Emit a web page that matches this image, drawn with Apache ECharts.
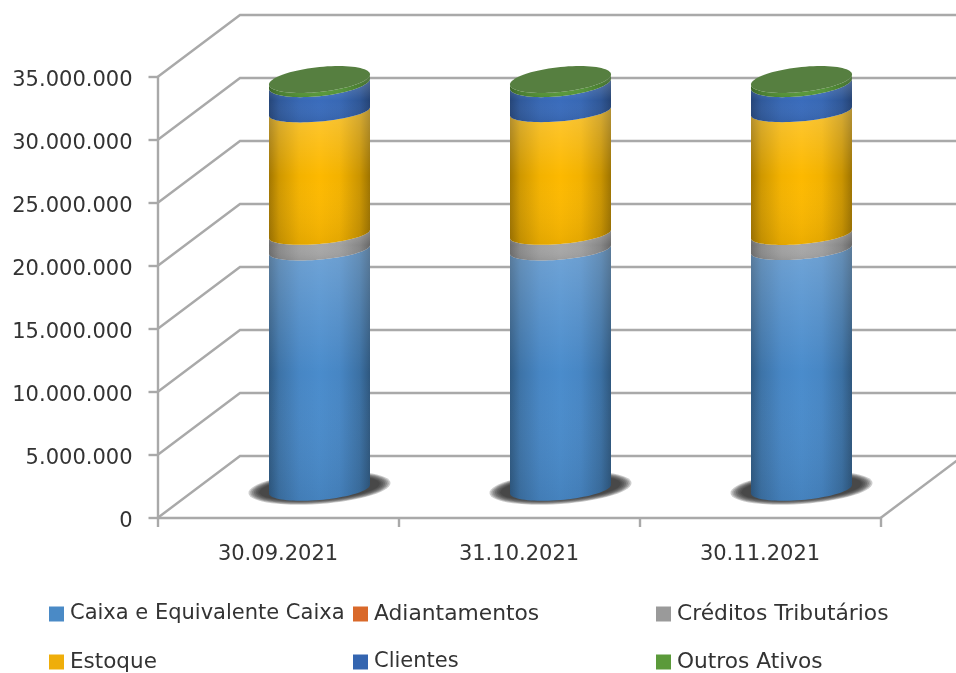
<!DOCTYPE html>
<html><head><meta charset="utf-8">
<style>html,body{margin:0;padding:0;background:#fff}#c{width:956px;height:673px;filter:blur(0.55px)}</style>
<script src="https://cdn.jsdelivr.net/npm/echarts@6/dist/echarts.min.js"></script>
</head><body><div id="c"></div>
<script>
const categories = ['30.09.2021', '31.10.2021', '30.11.2021'];
const yTicks = [0, 5000000, 10000000, 15000000, 20000000, 25000000, 30000000, 35000000];
const caixa = [19000000, 19000000, 19030000];
const adiantamentos = [0, 0, 0];
const creditos = [1240000, 1240000, 1200000];
const estoque = [9720000, 9740000, 9750000];
const clientes = [2210000, 2190000, 2190000];
const outros = [330000, 330000, 330000];
const names = ['Caixa e Equivalente Caixa', 'Adiantamentos', 'Créditos Tributários', 'Estoque', 'Clientes', 'Outros Ativos'];
const values = [caixa, adiantamentos, creditos, estoque, clientes, outros];
const colors = ['#4a8ccc', '#d9692a', '#a8a8a8', '#fdb900', '#3a6cbc', '#5b9c3c'];
const legendColors = ['#4a8ac6', '#d9692a', '#9a9a9a', '#efae0a', '#3465b0', '#5b9a3a'];

// Pseudo-3D look
const FONT = 'DejaVu Sans';
const TEXT = '#333333';
const DEPTH = [82.5, -62];       // back wall offset
const MID = [41.5, -29];         // cylinder axis offset
const RX = 50.5;
const RING = [11, 10, 10, 10, 10, 12.5, 12.5];                  // ring half height by stack level
const TILT = [0.085, 0.085, 0.085, 0.085, 0.085, 0.1, 0.1];     // ring tilt by stack level
const GRID = '#a9a9a9';
const LEGEND_SPOTS = [[49, 602], [353, 602], [656, 602], [49, 650], [353, 650], [656, 650]];
const LEGEND_SIZES = [21, 21.8, 21.8, 21.5, 21, 21.7];

function shade(hex, k) {
  const n = parseInt(hex.slice(1), 16);
  const c = [(n >> 16) & 255, (n >> 8) & 255, n & 255].map(v => Math.round(v * k));
  return `rgb(${c[0]},${c[1]},${c[2]})`;
}
function ring(cx, cy, b, from, to, steps, a, s) {
  const pts = [];
  for (let i = 0; i <= steps; i++) {
    const t = from + (to - from) * i / steps;
    pts.push([cx + a * Math.cos(t), cy + b * Math.sin(t) - s * a * Math.cos(t)]);
  }
  return pts;
}
function cum(sIdx, cIdx) {
  let s = 0;
  for (let i = 0; i < sIdx; i++) s += values[i][cIdx];
  return s;
}
function center(api, c, v) {
  const p = api.coord([c, v]);
  return [p[0] + MID[0], p[1] + MID[1]];
}
const poly = (pts, style) => ({ type: 'polygon', shape: { points: pts }, style, silent: true });

function sideItem(sIdx) {
  return function (params, api) {
    const c = api.value(0), v = api.value(1);
    if (!v) return { type: 'group', children: [] };
    const base = cum(sIdx, c);
    const p0 = center(api, c, base), p1 = center(api, c, base + v);
    const pts = ring(p0[0], p0[1], RING[sIdx], Math.PI, 0, 40, RX, TILT[sIdx])
      .concat(ring(p1[0], p1[1], RING[sIdx + 1], 0, Math.PI, 40, RX, TILT[sIdx + 1]));
    const col = colors[sIdx];
    const children = [];
    if (sIdx === 0) {
      for (let i = 0; i < 7; i++) {
        children.push(poly(ring(p0[0], p0[1] - 1, 16 - i * 0.7, 0, Math.PI * 2, 60, 71 - i * 1.8, 0.07), {
          fill: 'rgba(40,40,40,0.24)'
        }));
      }
    }
    children.push(poly(pts, {
      fill: { type: 'linear', x: 0, y: 0, x2: 1, y2: 0, colorStops: [
        { offset: 0, color: shade(col, 0.64) }, { offset: 0.1, color: shade(col, 0.82) },
        { offset: 0.3, color: shade(col, 0.96) }, { offset: 0.5, color: shade(col, 1) },
        { offset: 0.7, color: shade(col, 0.96) }, { offset: 0.9, color: shade(col, 0.8) },
        { offset: 1, color: shade(col, 0.62) }] }
    }));
    children.push(poly(pts, {
      fill: { type: 'linear', x: 0, y: 0, x2: 0, y2: 1, colorStops: [
        { offset: 0, color: 'rgba(255,255,255,0.22)' }, { offset: 0.5, color: 'rgba(255,255,255,0)' },
        { offset: 1, color: 'rgba(0,0,0,0.07)' }] }
    }));
    if (sIdx === values.length - 1) {
      children.push(poly(ring(p1[0], p1[1], RING[sIdx + 1], 0, Math.PI * 2, 80, RX, TILT[sIdx + 1]), { fill: '#567f40' }));
    }
    return { type: 'group', children };
  };
}
function wallItem(params, api) {
  const p = api.coord([0, api.value(0)]);
  const cs = params.coordSys;
  const x0 = cs.x, y = p[1];
  const line = pts => ({ type: 'polyline', shape: { points: pts }, silent: true,
    style: { stroke: GRID, lineWidth: 2.4, fill: null } });
  const back = [x0 + DEPTH[0], y + DEPTH[1]];
  const ch = [line([[x0, y], back, [cs.x + cs.width + DEPTH[0], back[1]]])];
  if (api.value(0) === 0) ch.push(line([[cs.x + cs.width, y], [cs.x + cs.width + DEPTH[0], y + DEPTH[1]]]));
  return { type: 'group', children: ch };
}

const axisLine = { show: true, lineStyle: { color: GRID, width: 2.4 } };
const series = [{
  type: 'custom', name: 'paredes', renderItem: wallItem, clip: false, silent: true, z: 1,
  data: yTicks.map(v => [v]), encode: { y: 0 }, tooltip: { show: false }
}].concat(names.map((n, i) => ({
  type: 'custom', name: n, renderItem: sideItem(i), clip: false, z: 3 + i,
  itemStyle: { color: legendColors[i] },
  data: values[i].map((v, c) => [c, v]), encode: { x: 0, y: 1 }
})));
const chart = echarts.init(document.getElementById('c'), null, { renderer: 'canvas' });
chart.setOption({
  animation: false, backgroundColor: '#fff',
  grid: { left: 157.5, right: 75.5, top: 77, bottom: 155, containLabel: false },
  xAxis: { type: 'category', data: categories, boundaryGap: true, z: 2,
    axisLine, axisTick: { show: true, alignWithLabel: false, length: 9, lineStyle: { color: GRID, width: 2.4 } },
    axisLabel: { fontFamily: FONT, fontSize: 21, color: TEXT, margin: 26, interval: 0 }, splitLine: { show: false } },
  yAxis: { type: 'value', min: 0, max: 35000000, interval: 5000000, z: 2,
    axisLine, axisTick: { show: true, length: 9, lineStyle: { color: GRID, width: 2.4 } },
    axisLabel: { fontFamily: FONT, fontSize: 21, color: TEXT, margin: 25, verticalAlign: 'top', lineHeight: 8,
      formatter: v => String(v).replace(/\B(?=(\d{3})+$)/g, '.') }, splitLine: { show: false } },
  legend: names.map((n, i) => ({
    show: true, left: LEGEND_SPOTS[i][0], top: LEGEND_SPOTS[i][1], padding: 0, itemWidth: 15, itemHeight: 15, itemGap: 0,
    icon: 'rect', selectedMode: false, data: [n],
    textStyle: { fontFamily: FONT, fontSize: LEGEND_SIZES[i], lineHeight: 24, color: TEXT, padding: [0, 0, 0, 1] }
  })),
  series
});
</script></body></html>
